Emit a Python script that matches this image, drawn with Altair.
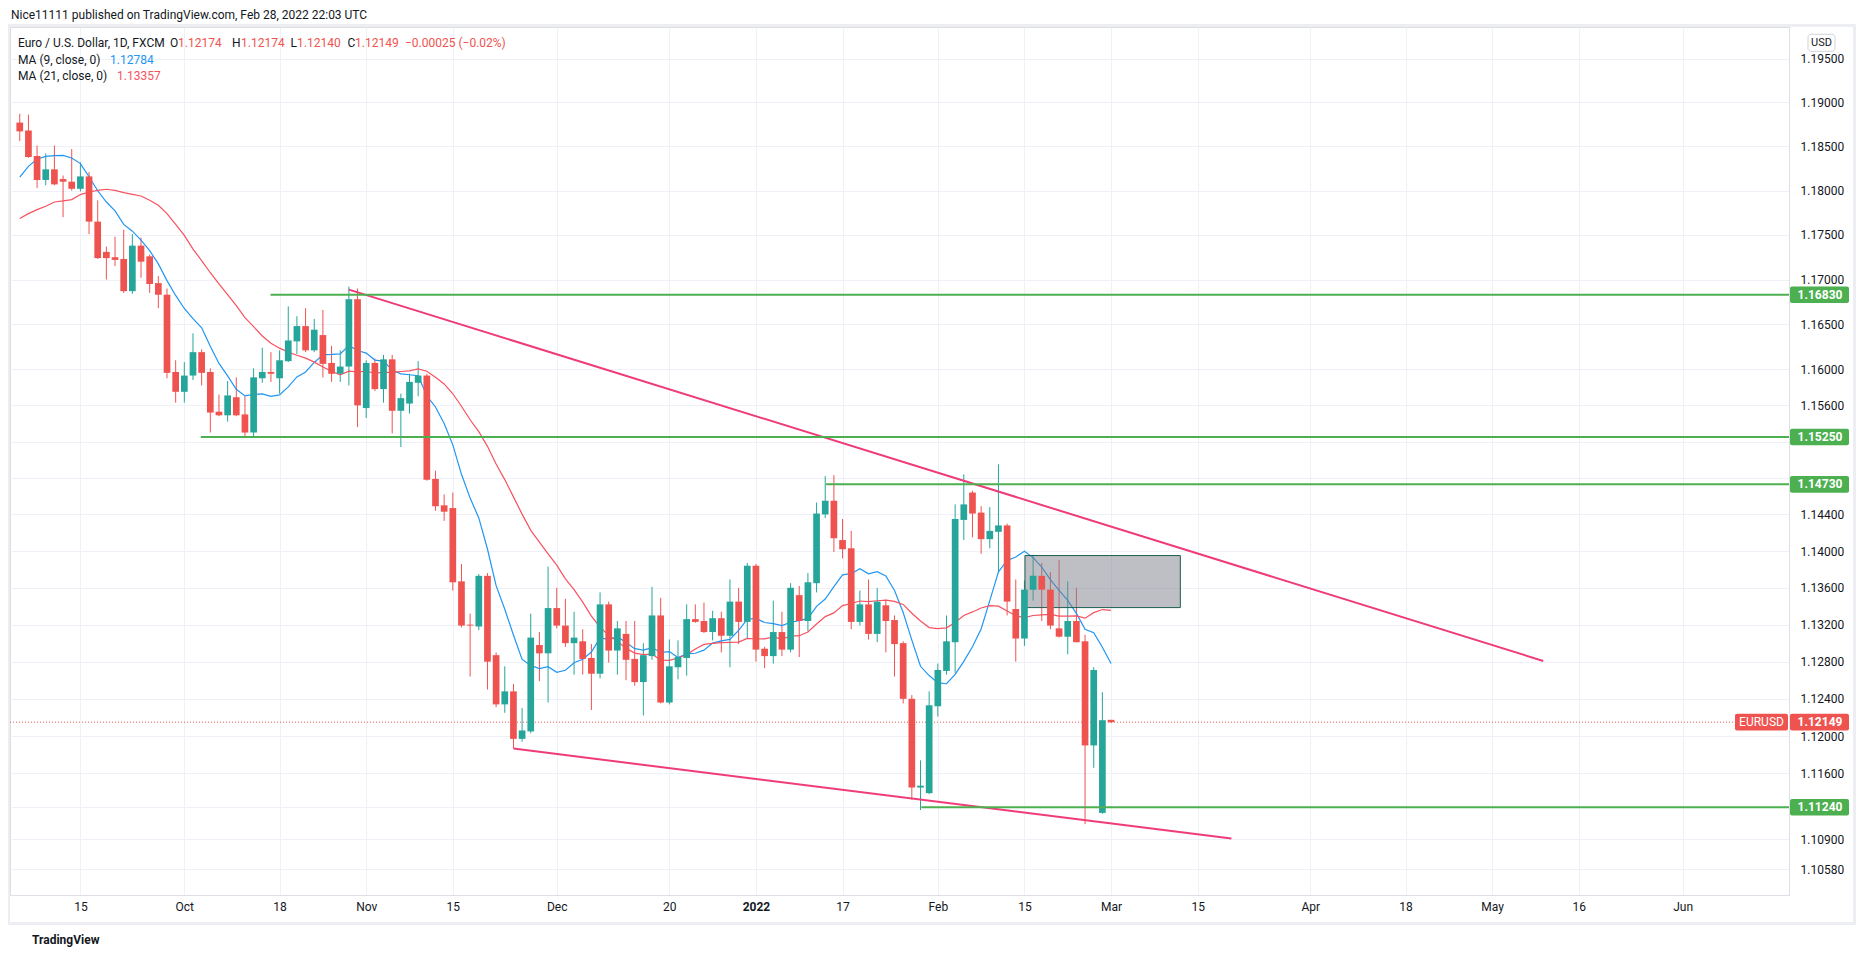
import altair as alt
import pandas as pd

# ---------------- data ----------------
# trading-day index 0 = 2021-09-06 ... 125 = 2022-02-28, 126 = 2022-03-01 (current bar)
opens = [1.1877, 1.1868, 1.1839, 1.1812, 1.1824, 1.1813, 1.1810, 1.1802, 1.1816, 1.1765,
         1.1731, 1.1725, 1.1723, 1.1687, 1.1738, 1.1726, 1.1696, 1.1683, 1.1597, 1.1575,
         1.1593, 1.1619, 1.1597, 1.1553, 1.1549, 1.1569, 1.1550, 1.1530, 1.1590, 1.1597,
         1.1590, 1.1609, 1.1631, 1.1648, 1.1621, 1.1638, 1.1607, 1.1595, 1.1603, 1.1678,
         1.1557, 1.1607, 1.1578, 1.1611, 1.1554, 1.1562, 1.1585, 1.1593, 1.1479, 1.1450,
         1.1447, 1.1367, 1.1320, 1.1318, 1.1373, 1.1287, 1.1234, 1.1248, 1.1197, 1.1205,
         1.1298, 1.1289, 1.1338, 1.1319, 1.1300, 1.1302, 1.1284, 1.1267, 1.1342, 1.1292,
         1.1310, 1.1283, 1.1258, 1.1286, 1.1330, 1.1236, 1.1274, 1.1284, 1.1326, 1.1324,
         1.1312, 1.1327, 1.1308, 1.1345, 1.1323, 1.1384, 1.1294, 1.1286, 1.1312, 1.1293,
         1.1352, 1.1324, 1.1365, 1.1440, 1.1455, 1.1412, 1.1403, 1.1323, 1.1342, 1.1310,
         1.1341, 1.1325, 1.1300, 1.1240, 1.1145, 1.1139, 1.1232, 1.1270, 1.1301, 1.1434,
         1.1464, 1.1442, 1.1413, 1.1421, 1.1428, 1.1337, 1.1305, 1.1358, 1.1373, 1.1358,
         1.1316, 1.1307, 1.1324, 1.1302, 1.1190, 1.1118, 1.12174]
highs = [1.1887, 1.1886, 1.1851, 1.1842, 1.1851, 1.1817, 1.1847, 1.1832, 1.1821, 1.1789,
         1.1737, 1.1748, 1.1756, 1.1751, 1.1747, 1.1728, 1.1704, 1.1690, 1.1610, 1.1608,
         1.1640, 1.1622, 1.1601, 1.1572, 1.1587, 1.1591, 1.1570, 1.1601, 1.1624, 1.1619,
         1.1621, 1.1670, 1.1659, 1.1668, 1.1656, 1.1666, 1.1626, 1.1621, 1.1692, 1.1690,
         1.1610, 1.1612, 1.1616, 1.1616, 1.1573, 1.1595, 1.1609, 1.1595, 1.1488, 1.1462,
         1.1464, 1.1386, 1.1332, 1.1375, 1.1376, 1.1290, 1.1275, 1.1256, 1.1230, 1.1332,
         1.1312, 1.1383, 1.1360, 1.1348, 1.1334, 1.1315, 1.1299, 1.1355, 1.1345, 1.1324,
         1.1324, 1.1324, 1.1300, 1.1361, 1.1349, 1.1304, 1.1303, 1.1342, 1.1342, 1.1344,
         1.1335, 1.1334, 1.1369, 1.1360, 1.1387, 1.1386, 1.1296, 1.1346, 1.1334, 1.1365,
         1.1362, 1.1376, 1.1453, 1.1482, 1.1483, 1.1435, 1.1422, 1.1357, 1.1369, 1.1360,
         1.1347, 1.1330, 1.1302, 1.1244, 1.1174, 1.1248, 1.1278, 1.1330, 1.1451, 1.1484,
         1.1466, 1.1449, 1.1448, 1.1495, 1.1430, 1.1369, 1.1368, 1.1396, 1.1387, 1.1377,
         1.1390, 1.1367, 1.1360, 1.1309, 1.1274, 1.1247, 1.12174]
lows = [1.1856, 1.1837, 1.1803, 1.1806, 1.1806, 1.1770, 1.1800, 1.1799, 1.1751, 1.1723,
        1.1700, 1.1715, 1.1685, 1.1684, 1.1702, 1.1685, 1.1668, 1.1590, 1.1563, 1.1563,
        1.1588, 1.1582, 1.1530, 1.1548, 1.1542, 1.1548, 1.1525, 1.1524, 1.1585, 1.1586,
        1.1573, 1.1608, 1.1617, 1.1619, 1.1619, 1.1591, 1.1586, 1.1586, 1.1582, 1.1536,
        1.1546, 1.1576, 1.1563, 1.1529, 1.1514, 1.1551, 1.1570, 1.1477, 1.1444, 1.1433,
        1.1357, 1.1317, 1.1264, 1.1314, 1.1250, 1.1231, 1.1225, 1.1187, 1.1194, 1.1203,
        1.1259, 1.1236, 1.1316, 1.1296, 1.1266, 1.1266, 1.1228, 1.1262, 1.1279, 1.1266,
        1.1260, 1.1254, 1.1222, 1.1282, 1.1235, 1.1234, 1.1261, 1.1265, 1.1322, 1.1311,
        1.1303, 1.1290, 1.1274, 1.1299, 1.1305, 1.1280, 1.1273, 1.1278, 1.1286, 1.1290,
        1.1285, 1.1313, 1.1355, 1.1436, 1.1399, 1.1392, 1.1315, 1.1319, 1.1304, 1.1301,
        1.1290, 1.1264, 1.1235, 1.1132, 1.1121, 1.1138, 1.1221, 1.1266, 1.1268, 1.1412,
        1.1415, 1.1397, 1.1403, 1.1376, 1.1330, 1.1280, 1.1297, 1.1346, 1.1324, 1.1315,
        1.1306, 1.1288, 1.1301, 1.1106, 1.1166, 1.1117, 1.12140]
closes = [1.1867, 1.1838, 1.1812, 1.1824, 1.1807, 1.1810, 1.1802, 1.1816, 1.1765, 1.1724,
          1.1724, 1.1722, 1.1687, 1.1738, 1.1720, 1.1695, 1.1683, 1.1596, 1.1575, 1.1593,
          1.1619, 1.1596, 1.1552, 1.1549, 1.1571, 1.1549, 1.1530, 1.1591, 1.1597, 1.1595,
          1.1610, 1.1632, 1.1648, 1.1621, 1.1644, 1.1606, 1.1595, 1.1603, 1.1678, 1.1560,
          1.1607, 1.1578, 1.1611, 1.1554, 1.1568, 1.1586, 1.1593, 1.1478, 1.1449, 1.1443,
          1.1366, 1.1319, 1.1319, 1.1373, 1.1280, 1.1234, 1.1248, 1.1197, 1.1206, 1.1306,
          1.1289, 1.1338, 1.1319, 1.1300, 1.1306, 1.1283, 1.1267, 1.1342, 1.1292, 1.1316,
          1.1282, 1.1258, 1.1287, 1.1330, 1.1236, 1.1275, 1.1285, 1.1326, 1.1323, 1.1312,
          1.1327, 1.1308, 1.1345, 1.1323, 1.1384, 1.1293, 1.1286, 1.1312, 1.1293, 1.1360,
          1.1324, 1.1366, 1.1441, 1.1455, 1.1414, 1.1402, 1.1323, 1.1342, 1.1310, 1.1345,
          1.1324, 1.1299, 1.1240, 1.1145, 1.1147, 1.1233, 1.1271, 1.1302, 1.1435, 1.1451,
          1.1441, 1.1413, 1.1422, 1.1428, 1.1345, 1.1305, 1.1358, 1.1373, 1.1358, 1.1319,
          1.1307, 1.1324, 1.1301, 1.1190, 1.1271, 1.1217, 1.12149]

# moving-average values read off the chart where the earlier history is not shown
ma9_first = [1.18153, 1.18274, 1.18357, 1.18387, 1.18395, 1.18398, 1.18368, 1.18305]
ma21_first = [1.17684, 1.17740, 1.17785, 1.17823, 1.17871, 1.17883, 1.17898, 1.17955,
              1.17984, 1.18003, 1.18015, 1.18003, 1.17977, 1.17958, 1.17939, 1.17890,
              1.17834, 1.17740, 1.17620, 1.17496]

x_tick_idx = [7, 19, 30, 40, 50, 62, 75, 85, 95, 106, 116, 126, 136, 149, 160, 170, 180, 192]
x_tick_lbl = ["15", "Oct", "18", "Nov", "15", "Dec", "20", "2022", "17", "Feb", "15", "Mar",
              "15", "Apr", "18", "May", "16", "Jun"]
y_ticks = [1.195, 1.19, 1.185, 1.18, 1.175, 1.17, 1.165, 1.16, 1.156, 1.152, 1.148, 1.144,
           1.14, 1.136, 1.132, 1.128, 1.124, 1.12, 1.116, 1.1124, 1.109, 1.1058]
# ticks whose labels sit under a price label box
y_hidden = [1.152, 1.148, 1.1124]

hline_price = [1.1683, 1.1525, 1.1473, 1.1124]
hline_start = [28.95, 20.9, 93.1, 104.1]

trend_id = ["upper", "upper", "lower", "lower"]
trend_i = [38.0, 175.9, 57.0, 139.9]
trend_p = [1.16887, 1.12808, 1.11866, 1.10907]

zone_i = [116.06, 134.0]
zone_p = [1.13951, 1.13385]

last_price = 1.12149

header = "Nice11111 published on TradingView.com, Feb 28, 2022 22:03 UTC"
legend_title = "Euro / U.S. Dollar, 1D, FXCM"
ohlc_letters = ["O", "H", "L", "C"]
ohlc_values = ["1.12174", "1.12174", "1.12140", "1.12149"]
change_text = "\u22120.00025 (\u22120.02%)"
ma_names = ["MA (9, close, 0)", "MA (21, close, 0)"]
ma_values = ["1.12784", "1.13357"]

# ---------------- styling / layout ----------------
W, H = 1779, 868
FONT = "Roboto"
UP, DN = "#26a69a", "#ef5350"
TXT = "#131722"
GRID = "#eef1f7"
GREEN = "#4caf50"
PINK = "#ef3b78"
BLUE = "#2196f3"
MARED = "#f7525f"

xs = alt.Scale(domain=[-0.55, 203.7], nice=False, zero=False)
ys = alt.Scale(type="log", domain=[1.1031, 1.19861], nice=False)


def X(f):
    return alt.X(f, scale=xs)


def Y(f):
    return alt.Y(f, scale=ys)


df = pd.DataFrame({"i": list(range(len(opens))), "o": opens, "h": highs, "l": lows, "c": closes})
df["dir"] = ["up" if c >= o else "down" for o, c in zip(opens, closes)]
ma9 = df["c"].rolling(9).mean().tolist()
ma21 = df["c"].rolling(21).mean().tolist()
ma9[:len(ma9_first)] = ma9_first
ma21[:len(ma21_first)] = ma21_first
df["ma9"] = ma9
df["ma21"] = ma21

color = alt.Color("dir:N", scale=alt.Scale(domain=["up", "down"], range=[UP, DN]), legend=None)

lbl_expr = "[" + ",".join("'%s'" % s for s in x_tick_lbl) + "][indexof([" + \
    ",".join(str(v) for v in x_tick_idx) + "], datum.value)]"
hide_test = " || ".join("abs(datum.value-%s)<1e-7" % v for v in y_hidden)
ylbl_expr = "(%s) ? '' : format(datum.value, '.5f')" % hide_test

xaxis = alt.Axis(values=x_tick_idx, labelExpr=lbl_expr, grid=True, gridColor=GRID, ticks=False,
                 domainColor="#dcdfe6", labelColor=TXT, labelFont=FONT, labelFontSize=12,
                 labelPadding=6, title=None, labelOverlap=False, labelFlush=False,
                 labelFontWeight={"condition": {"test": "datum.value == 85", "value": "bold"},
                                  "value": "normal"})
yaxis = alt.Axis(orient="right", values=y_ticks, grid=True, gridColor=GRID, ticks=False,
                 labelExpr=ylbl_expr,
                 domainColor="#dcdfe6", labelColor=TXT, labelFont=FONT, labelFontSize=12,
                 labelPadding=11, title=None, labelOverlap=False, labelBaseline="middle")

base = alt.Chart(df)

wicks = base.mark_rule(strokeWidth=1).encode(
    x=alt.X("i:Q", scale=xs, axis=xaxis),
    y=alt.Y("l:Q", scale=ys, axis=yaxis),
    y2="h:Q", color=color)
bodies = base.mark_bar(size=6.7, orient="vertical").encode(
    x=X("i:Q"), y=Y("o:Q"), y2="c:Q", color=color)
ma9_line = base.mark_line(color=BLUE, strokeWidth=1.2).encode(x=X("i:Q"), y=Y("ma9:Q"))
ma21_line = base.mark_line(color=MARED, strokeWidth=1.2).encode(x=X("i:Q"), y=Y("ma21:Q"))

lp_df = pd.DataFrame({"p": [last_price]})
price_line = alt.Chart(lp_df).mark_rule(color=DN, strokeWidth=1, strokeDash=[1, 2]).encode(
    x=alt.value(0), x2=alt.value(W), y=Y("p:Q"))

zone_df = pd.DataFrame({"i0": [zone_i[0]], "i1": [zone_i[1]], "p0": [zone_p[0]], "p1": [zone_p[1]]})
zone = alt.Chart(zone_df).mark_rect(fill="#7c7f89", fillOpacity=0.5, stroke="#1b5e50",
                                    strokeWidth=1).encode(
    x=X("i0:Q"), x2="i1:Q", y=Y("p0:Q"), y2="p1:Q")

tr_df = pd.DataFrame({"id": trend_id, "i": trend_i, "p": trend_p})
trends = alt.Chart(tr_df).mark_line(color=PINK, strokeWidth=2).encode(
    x=X("i:Q"), y=Y("p:Q"), detail="id:N")

hl_df = pd.DataFrame({"s": hline_start, "p": hline_price})
hlines = alt.Chart(hl_df).mark_rule(color=GREEN, strokeWidth=2).encode(
    x=X("s:Q"), x2=alt.value(W), y=Y("p:Q"))

# price-scale label boxes
green_boxes = alt.Chart(hl_df).mark_rect(color=GREEN, yOffset=-8.3, y2Offset=8.3, cornerRadius=2).encode(
    x=alt.value(W + 1), x2=alt.value(W + 60), y=Y("p:Q"), y2="p:Q")
green_txt = alt.Chart(hl_df).mark_text(color="white", font=FONT, fontSize=12, fontWeight="bold",
                                       align="center", baseline="middle").encode(
    x=alt.value(W + 31), y=Y("p:Q"), text=alt.Text("p:Q", format=".5f"))
red_box = alt.Chart(lp_df).mark_rect(color=DN, yOffset=-8.3, y2Offset=8.3, cornerRadius=2).encode(
    x=alt.value(W + 1), x2=alt.value(W + 60), y=Y("p:Q"), y2="p:Q")
red_txt = alt.Chart(lp_df).mark_text(color="white", font=FONT, fontSize=12, fontWeight="bold",
                                     align="center", baseline="middle").encode(
    x=alt.value(W + 31), y=Y("p:Q"), text=alt.Text("p:Q", format=".5f"))
sym_box = alt.Chart(lp_df).mark_rect(color=DN, yOffset=-8.3, y2Offset=8.3, cornerRadius=2).encode(
    x=alt.value(W - 54), x2=alt.value(W - 1), y=Y("p:Q"), y2="p:Q")
sym_txt = alt.Chart(pd.DataFrame({"p": [last_price], "t": ["EURUSD"]})).mark_text(
    color="white", font=FONT, fontSize=12, align="center", baseline="middle").encode(
    x=alt.value(W - 27.5), y=Y("p:Q"), text="t:N")


def label(text, x, y, color=TXT, size=12, weight="normal", align="left"):
    return alt.Chart(pd.DataFrame({"t": [text]})).mark_text(
        align=align, baseline="middle", font=FONT, fontSize=size, fontWeight=weight,
        color=color).encode(text="t:N", x=alt.value(x), y=alt.value(y))


texts = [label(header, 1, -11.7)]
texts.append(label(legend_title, 8, 16))
letter_x = [160, 222, 280.5, 337.5]
value_x = [168, 231, 287, 345]
for k in range(4):
    texts.append(label(ohlc_letters[k], letter_x[k], 16))
    texts.append(label(ohlc_values[k], value_x[k], 16, color=DN))
texts.append(label(change_text, 395, 16, color=DN))
texts.append(label(ma_names[0], 8, 32.6))
texts.append(label(ma_values[0], 100, 32.6, color=BLUE))
texts.append(label(ma_names[1], 8, 49.4))
texts.append(label(ma_values[1], 107, 49.4, color=MARED))
texts.append(label("TradingView", 22, 913, size=12, weight="bold"))

one = pd.DataFrame({"k": [0]})
usd_box = alt.Chart(one).mark_rect(fill="white", stroke="#d1d4dc", strokeWidth=1, cornerRadius=3).encode(
    x=alt.value(W + 19), x2=alt.value(W + 46), y=alt.value(7.3), y2=alt.value(24.3))
usd_txt = label("USD", W + 32.5, 16, size=11, align="center")
frame = alt.Chart(one).mark_rect(filled=False, stroke="#eceef3", strokeWidth=3).encode(
    x=alt.value(-1.5), x2=alt.value(W + 65.5), y=alt.value(-1.5), y2=alt.value(H + 28.5))

chart = alt.layer(
    wicks, price_line, ma9_line, ma21_line, zone, bodies, trends, hlines,
    sym_box, sym_txt, green_boxes, green_txt, red_box, red_txt, usd_box, usd_txt, frame,
    *texts
).properties(
    width=W, height=H,
    autosize=alt.AutoSizeParams(type="none"),
    padding={"left": 2, "top": 19, "right": 67, "bottom": 54},
).configure_view(stroke=None).configure(background="white")

chart.save("out.html", embed_options={"renderer": "svg", "actions": False})
